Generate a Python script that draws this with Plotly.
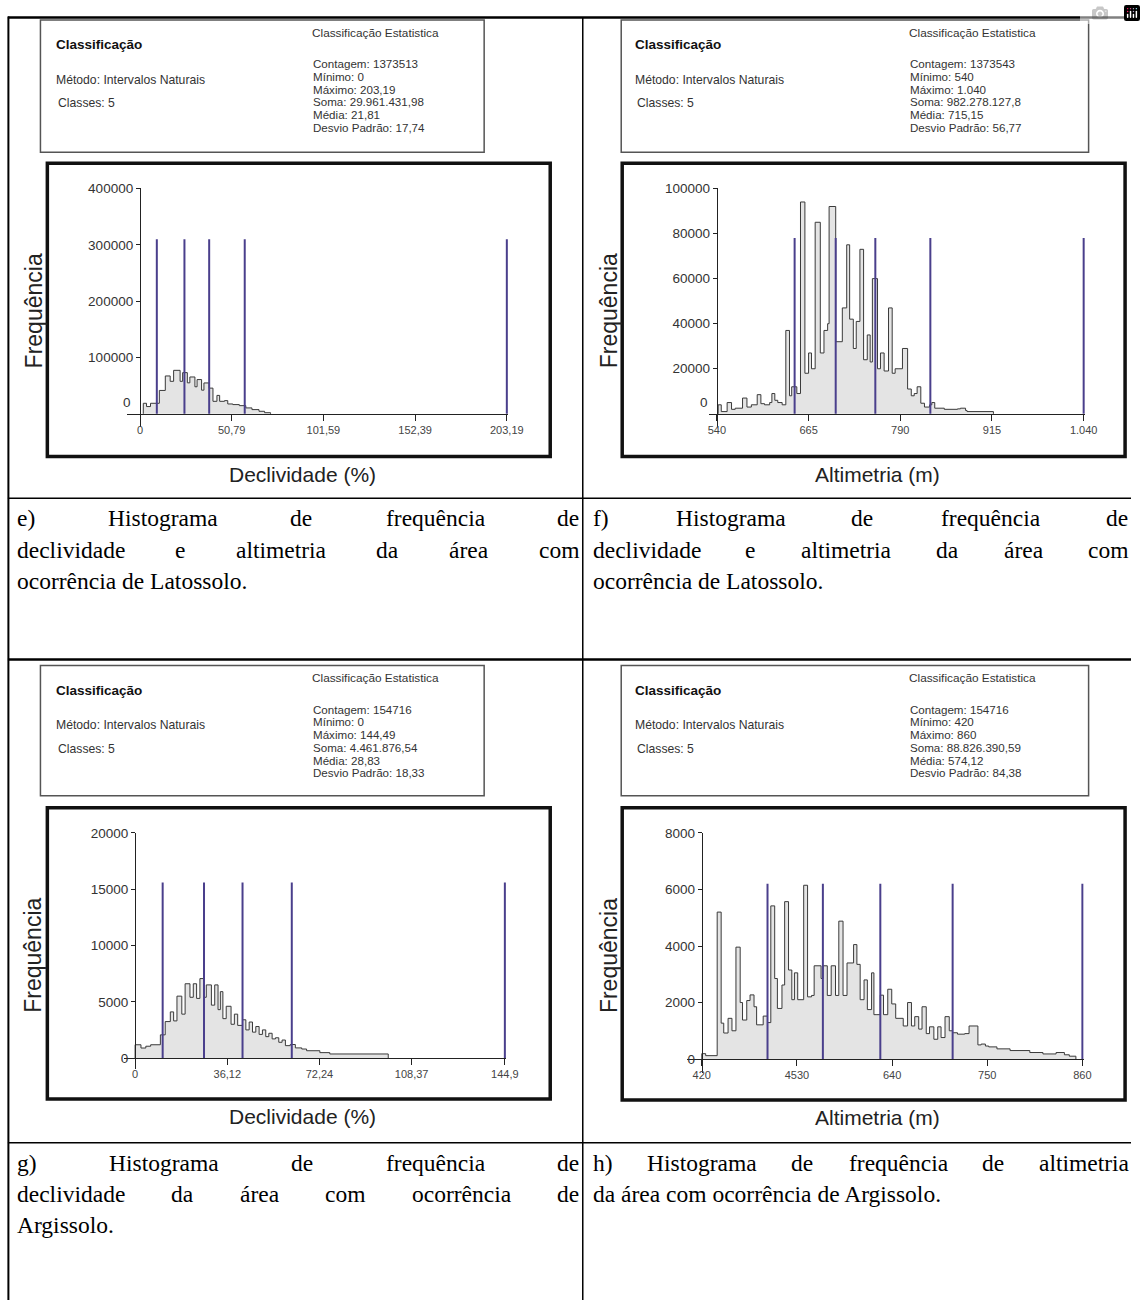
import plotly.graph_objects as go

W, H = 1146, 1300

# ---------------- data ----------------
# e) Declividade - Latossolo
e_bin_left = [1.8, 3.6, 5.8, 10.7, 14.0, 16.7, 18.6, 22.2, 23.6, 26.2, 27.6, 30.4, 31.6, 34.1, 35.4,
              38.3, 40.4, 42.6, 44.1, 46.8, 48.6, 51.4, 55.0, 58.6, 62.0, 65.9, 69.0]
e_freq = [18700, 12900, 18700, 41500, 67200, 57700, 77200, 57700, 73100, 55000, 65400, 48000, 60800, 42000,
          54800, 45600, 22200, 32700, 22200, 23400, 17500, 16400, 14500, 10500, 7500, 4500, 2000]
e_bin_end = 72.3
e_breaks = [9.3, 24.6, 38.3, 58.0, 203.19]
e_break_top = 310000
e_xticks = [0, 50.79, 101.59, 152.39, 203.19]
e_xticklabels = ["0", "50,79", "101,59", "152,39", "203,19"]
e_yticks = [100000, 200000, 300000, 400000]
e_stats = ["Contagem: 1373513", "Mínimo: 0", "Máximo: 203,19", "Soma: 29.961.431,98",
           "Média: 21,81", "Desvio Padrão: 17,74"]

# f) Altimetria - Latossolo
f_bin_left = [541.8, 546, 554, 560, 565, 575, 581, 587, 595, 600, 605, 612, 615, 619, 623, 629, 634, 639,
              642, 649, 654, 660, 665, 669, 674, 681, 686, 691, 693, 702, 711, 717, 721, 726, 730, 735, 740,
              745, 749, 752, 759, 763, 768, 774, 779, 783, 787, 793, 800, 805, 809, 813, 818, 823, 830, 833,
              837, 850, 868, 872, 879, 881]
f_freq = [4000, 1000, 5000, 2000, 2500, 7000, 3000, 4000, 8500, 4500, 4000, 5000, 9000, 6000, 5000, 4000,
          37000, 8000, 12000, 9000, 94000, 18000, 27000, 20000, 85000, 27000, 37000, 40000, 92000, 32000,
          47000, 75000, 42000, 29000, 41000, 73000, 24000, 35000, 23000, 60000, 20000, 27000, 19000, 47000,
          18000, 20000, 20000, 29000, 11000, 8000, 9000, 12000, 4700, 3000, 4000, 5000, 2500, 2000, 2200,
          2500, 1500, 1000]
f_bin_end = 917
f_breaks = [646, 702, 756, 831, 1040]
f_break_top = 78000
f_xticks = [540, 665, 790, 915, 1040]
f_xticklabels = ["540", "665", "790", "915", "1.040"]
f_yticks = [20000, 40000, 60000, 80000, 100000]
f_stats = ["Contagem: 1373543", "Mínimo: 540", "Máximo: 1.040", "Soma: 982.278.127,8",
           "Média: 715,15", "Desvio Padrão: 56,77"]

# g) Declividade - Argissolo
g_bin_left = [0.0, 2.3, 4.2, 6.1, 9.9, 11.8, 13.8, 15.1, 16.4, 18.3, 19.6, 21.5, 22.8, 24.1, 25.4, 26.9,
              27.9, 29.9, 31.2, 32.5, 33.4, 34.4, 35.7, 37.6, 38.9, 40.2, 42.1, 43.4, 44.7, 46.0, 47.3, 48.6,
              49.9, 51.2, 52.4, 53.7, 55.0, 56.3, 57.6, 58.9, 60.8, 62.8, 65.3, 67.2, 72.4, 76.3]
g_freq = [1180, 890, 1050, 1180, 2060, 3240, 4100, 3300, 5500, 3900, 6600, 5400, 6600, 5300, 7060, 5400,
          6500, 4700, 6500, 4300, 5900, 3500, 4600, 3000, 3900, 2900, 3400, 2500, 3200, 2300, 2800, 2100,
          2500, 1900, 2200, 1700, 1800, 1400, 1600, 1100, 1200, 900, 800, 650, 480, 360]
g_bin_end = 99.2
g_breaks = [10.8, 27.0, 42.1, 61.4, 144.9]
g_break_top = 15600
g_xticks = [0, 36.12, 72.24, 108.37, 144.9]
g_xticklabels = ["0", "36,12", "72,24", "108,37", "144,9"]
g_yticks = [0, 5000, 10000, 15000, 20000]
g_stats = ["Contagem: 154716", "Mínimo: 0", "Máximo: 144,49", "Soma: 4.461.876,54",
           "Média: 28,83", "Desvio Padrão: 18,33"]

# h) Altimetria - Argissolo
h_bin_left = [420.0, 424.5, 437.8, 442.4, 445.4, 450.4, 454.9, 459.5, 464.4, 467.1, 472.0, 475.8, 480.4,
              483.4, 491.0, 496.0, 499.8, 504.3, 507.4, 512.7, 515.8, 520.3, 524.1, 527.1, 530.9, 537.8,
              542.3, 546.9, 549.9, 557.9, 560.2, 565.1, 569.6, 574.6, 578.4, 583.3, 587.9, 595.5, 599.3,
              603.1, 607.6, 611.4, 616.3, 619.0, 622.5, 626.3, 630.1, 635.0, 639.6, 644.2, 652.9, 657.9,
              662.4, 666.2, 670.8, 674.6, 679.5, 683.3, 688.3, 692.8, 696.6, 701.2, 706.1, 709.9, 715.6,
              724.0, 729.0, 739.2, 743.0, 747.9, 751.7, 761.2, 776.4, 799.2, 814.4, 829.6, 839.2, 844.9]
h_freq = [190, 120, 5200, 1270, 920, 1440, 1000, 3960, 2000, 1380, 2070, 2270, 1850, 1210, 1520, 1290,
          5420, 2850, 1790, 2620, 5570, 3150, 2100, 3050, 2100, 6150, 2200, 2250, 3300, 2850, 3300, 2250,
          3300, 2250, 4880, 2250, 3400, 4050, 3350, 2100, 2800, 1750, 3050, 1570, 1570, 2260, 1570, 2470,
          1950, 1440, 1170, 2000, 1170, 1500, 1060, 1850, 900, 1140, 700, 1140, 760, 1500, 1000, 930, 880,
          900, 1170, 500, 530, 460, 430, 360, 300, 230, 180, 230, 150, 100]
h_bin_end = 852.5
h_breaks = [496, 560, 626.4, 710, 860]
h_break_top = 6200
h_xticks = [420, 530, 640, 750, 860]
h_xticklabels = ["420", "4530", "640", "750", "860"]
h_yticks = [0, 2000, 4000, 6000, 8000]
h_stats = ["Contagem: 154716", "Mínimo: 420", "Máximo: 860", "Soma: 88.826.390,59",
           "Média: 574,12", "Desvio Padrão: 84,38"]

captions_e = [["e)", "Histograma", "de", "frequência", "de"],
              ["declividade", "e", "altimetria", "da", "área", "com"],
              ["ocorrência de Latossolo."]]
captions_f = [["f)", "Histograma", "de", "frequência", "de"],
              ["declividade", "e", "altimetria", "da", "área", "com"],
              ["ocorrência de Latossolo."]]
captions_g = [["g)", "Histograma", "de", "frequência", "de"],
              ["declividade", "da", "área", "com", "ocorrência", "de"],
              ["Argissolo."]]
captions_h = [["h)", "Histograma", "de", "frequência", "de", "altimetria"],
              ["da área com ocorrência de Argissolo."]]

# ---------------- layout helpers ----------------
def PX(x):
    return x / W


def PY(y):
    return 1 - y / H


SANS = "Liberation Sans, Arial, Helvetica, sans-serif"
SERIF = "Liberation Serif, Times New Roman, serif"
PURPLE = "#4a3f8c"

panels = [
    dict(left=e_bin_left, freq=e_freq, end=e_bin_end, breaks=e_breaks, btop=e_break_top,
         xticks=e_xticks, xlabels=e_xticklabels, yticks=e_yticks, ymax=400000, xmin=0, xmax=203.19,
         box=(47, 157, 557, 452), x0=141, x1=513, y0=409, y1=182, xpad=13, ypad=13, zero_raised=True,
         stats=e_stats, sbox=(40, 13, 490, 146), tl=54, ts=314, xlab="Declividade (%)"),
    dict(left=f_bin_left, freq=f_freq, end=f_bin_end, breaks=f_breaks, btop=f_break_top,
         xticks=f_xticks, xlabels=f_xticklabels, yticks=f_yticks, ymax=100000, xmin=540, xmax=1040,
         box=(630, 157, 1140, 452), x0=726, x1=1098, y0=409, y1=182, xpad=8, ypad=13, zero_raised=True,
         stats=f_stats, sbox=(629, 13, 1103, 146), tl=641, ts=920, xlab="Altimetria (m)"),
    dict(left=g_bin_left, freq=g_freq, end=g_bin_end, breaks=g_breaks, btop=g_break_top,
         xticks=g_xticks, xlabels=g_xticklabels, yticks=g_yticks, ymax=20000, xmin=0, xmax=144.9,
         box=(47, 805, 557, 1098), x0=136, x1=511, y0=1056.7, y1=830, xpad=11, ypad=11, zero_raised=False,
         stats=g_stats, sbox=(40, 662, 490, 793), tl=54, ts=314, xlab="Declividade (%)"),
    dict(left=h_bin_left, freq=h_freq, end=h_bin_end, breaks=h_breaks, btop=h_break_top,
         xticks=h_xticks, xlabels=h_xticklabels, yticks=h_yticks, ymax=8000, xmin=420, xmax=860,
         box=(630, 805, 1140, 1099), x0=710.7, x1=1096.7, y0=1057.7, y1=830, xpad=15, ypad=14,
         zero_raised=False, stats=h_stats, sbox=(629, 662, 1103, 793), tl=641, ts=920,
         xlab="Altimetria (m)"),
]

fig = go.Figure()
shapes = []
annotations = []
layout_axes = {}


def ann(text, x, y, size, family=SANS, color="#222", xanchor="left", bold=False, angle=0):
    t = "<b>%s</b>" % text if bold else text
    annotations.append(dict(text=t, x=PX(x), y=PY(y), xref="paper", yref="paper", showarrow=False,
                            xanchor=xanchor, yanchor="middle", textangle=angle,
                            font=dict(family=family, size=size, color=color)))


for k, p in enumerate(panels, start=1):
    xa = "x" if k == 1 else "x%d" % k
    ya = "y" if k == 1 else "y%d" % k
    xkey = "xaxis" if k == 1 else "xaxis%d" % k
    ykey = "yaxis" if k == 1 else "yaxis%d" % k

    sx = (p["x1"] - p["x0"]) / (p["xmax"] - p["xmin"])
    sy = (p["y0"] - p["y1"]) / p["ymax"]
    xr = [p["xmin"] - p["xpad"] / sx, p["xmax"] + 1.5 / sx]
    yr = [-p["ypad"] / sy, p["ymax"] * 1.002]

    layout_axes[xkey] = dict(
        domain=[PX(p["x0"] - p["xpad"]), PX(p["x1"] + 1.5)], range=xr, anchor="free",
        position=PY(p["y0"]), showline=True, linecolor="#222", linewidth=1.3, ticks="outside",
        ticklen=6, tickwidth=1.3, tickcolor="#222", tickvals=p["xticks"], ticktext=p["xlabels"],
        tickfont=dict(family=SANS, size=11, color="#444"), showgrid=False, zeroline=False,
        fixedrange=True)
    layout_axes[ykey] = dict(
        domain=[PY(p["y0"] + p["ypad"]), PY(p["y1"])], range=yr, anchor="free",
        position=PX(p["x0"]), showline=True, linecolor="#222", linewidth=1.3, ticks="outside",
        ticklen=4, tickwidth=1.3, tickcolor="#222", tickvals=p["yticks"],
        ticktext=[str(v) for v in p["yticks"]],
        tickfont=dict(family=SANS, size=13.5, color="#333"), showgrid=False, zeroline=False,
        fixedrange=True)

    # histogram step outline with gray fill
    xs = [p["left"][0]] + list(p["left"]) + [p["end"]]
    ys = [0] + list(p["freq"]) + [0]
    fig.add_trace(go.Scatter(x=xs, y=ys, mode="lines", line=dict(shape="hv", color="#3a3a3a", width=1),
                             fill="tozeroy", fillcolor="#e4e4e4", xaxis=xa, yaxis=ya,
                             hoverinfo="skip"))
    # class breaks
    bx, by = [], []
    for b in p["breaks"]:
        bx += [b, b, None]
        by += [0, p["btop"], None]
    fig.add_trace(go.Scatter(x=bx, y=by, mode="lines", line=dict(color=PURPLE, width=2),
                             xaxis=xa, yaxis=ya, hoverinfo="skip"))

    if p["zero_raised"]:
        annotations.append(dict(text="0", x=p["xmin"], y=0, xref=xa, yref=ya, showarrow=False,
                                xanchor="right", yanchor="middle", xshift=-7, yshift=11,
                                font=dict(family=SANS, size=13.5, color="#333")))

    # histogram frame
    bx0, by0, bx1, by1 = p["box"]
    shapes.append(dict(type="rect", xref="paper", yref="paper", x0=PX(bx0), x1=PX(bx1),
                       y0=PY(by1), y1=PY(by0), line=dict(color="#111", width=3.5)))
    # axis labels
    cy = (p["y1"] + p["y0"]) / 2 + 10
    ann("Frequência", bx0 - 14, cy, 23, angle=-90, xanchor="center", color="#222")
    ann(p["xlab"], (bx0 + bx1) / 2 + 4, by1 + 18, 21, xanchor="center", color="#222")

    # statistics box
    sx0, sy0, sx1, sy1 = p["sbox"]
    shapes.append(dict(type="rect", xref="paper", yref="paper", x0=PX(sx0), x1=PX(sx1),
                       y0=PY(sy1), y1=PY(sy0), line=dict(color="#555", width=1.5)))
    ann("Classificação", p["tl"], sy0 + 25, 13.5, bold=True, color="#111")
    ann("Método: Intervalos Naturais", p["tl"], sy0 + 60, 12.2, color="#333")
    ann("Classes: 5", p["tl"] + 2, sy0 + 84, 12.2, color="#333")
    ann("Classificação Estatistica", p["ts"] - 1, sy0 + 13, 11.8, color="#333")
    for i, s in enumerate(p["stats"]):
        ann(s, p["ts"], sy0 + 44 + 12.8 * i, 11.6, color="#333")

fig.update_layout(**layout_axes)

# ---------------- table lines ----------------
def hline(y, x0, x1, w):
    shapes.append(dict(type="line", xref="paper", yref="paper", x0=PX(x0), x1=PX(x1), y0=PY(y), y1=PY(y),
                       line=dict(color="#000", width=w)))


def vline(x, y0, y1, w):
    shapes.append(dict(type="line", xref="paper", yref="paper", x0=PX(x), x1=PX(x), y0=PY(y0), y1=PY(y1),
                       line=dict(color="#000", width=w)))


hline(10.5, 7, 1146, 2.5)
hline(494, 7, 1146, 1.5)
hline(656, 7, 1146, 2.5)
hline(1142, 7, 1146, 1.5)
vline(7.5, 9.5, 1300, 2)
vline(590, 10, 1300, 1.5)

# ---------------- captions (justified Times text) ----------------
TW = {' ': 250, 'a': 444, 'b': 500, 'c': 444, 'd': 500, 'e': 444, 'f': 333, 'g': 500, 'h': 500, 'i': 278,
      'j': 278, 'k': 500, 'l': 278, 'm': 778, 'n': 500, 'o': 500, 'p': 500, 'q': 500, 'r': 333, 's': 389,
      't': 278, 'u': 500, 'v': 500, 'w': 722, 'x': 500, 'y': 500, 'z': 444, 'A': 722, 'H': 722, 'L': 611,
      ')': 333, '(': 333, '.': 250, 'á': 444, 'ê': 444, 'ç': 444, 'ã': 444}
CAP = 23.5


def wwidth(w):
    return sum(TW.get(c, 500) for c in w) * CAP / 1000.0


def caption_block(lines, xl, xr, ytop, step=31.5):
    for i, words in enumerate(lines):
        y = ytop + i * step
        last = (i == len(lines) - 1)
        if last or len(words) == 1:
            ann(" ".join(words), xl, y, CAP, family=SERIF, color="#000")
            continue
        widths = [wwidth(w) for w in words]
        gap = (xr - xl - sum(widths)) / (len(words) - 1)
        x = xl
        for w, wd in zip(words, widths):
            ann(w, x, y, CAP, family=SERIF, color="#000")
            x += wd + gap


caption_block(captions_e, 14, 584, 514)
caption_block(captions_f, 598, 1141, 514)
caption_block(captions_g, 14, 584, 1162)
caption_block(captions_h, 598, 1141, 1162)

fig.update_layout(width=W, height=H, margin=dict(l=0, r=0, t=0, b=0), paper_bgcolor="white",
                  plot_bgcolor="rgba(0,0,0,0)", showlegend=False, shapes=shapes, annotations=annotations)

fig.write_html("out.html", post_script="document.body.style.margin='0px';")
